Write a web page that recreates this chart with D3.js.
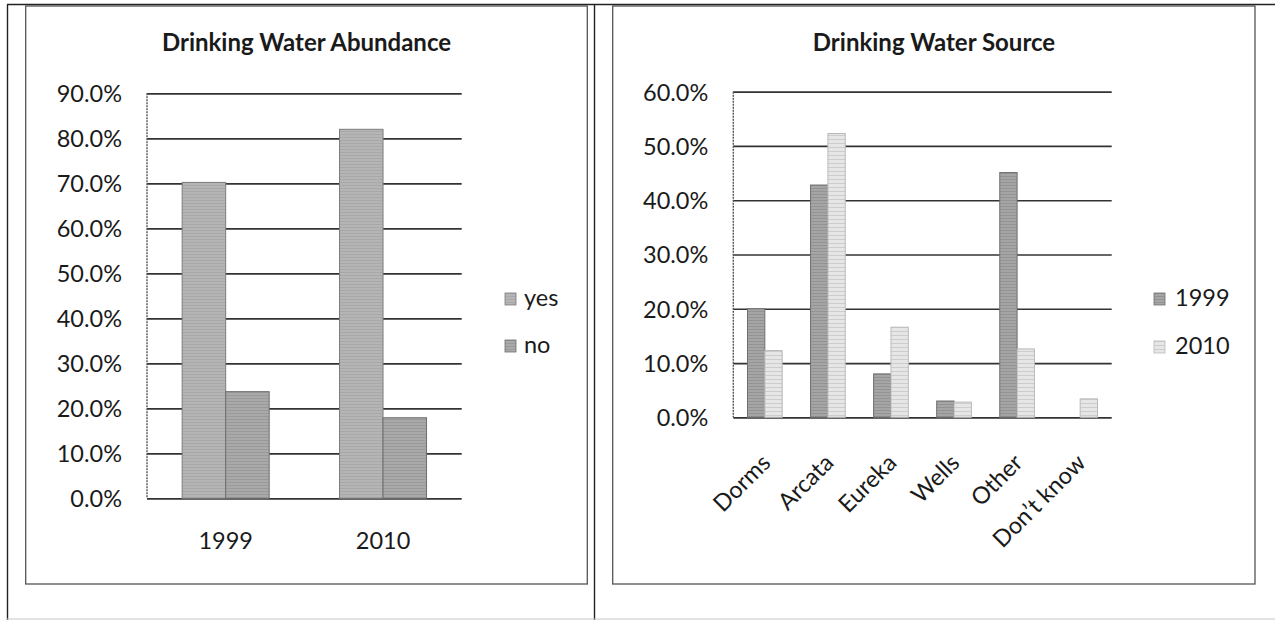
<!DOCTYPE html>
<html>
<head>
<meta charset="utf-8">
<script src="https://cdn.jsdelivr.net/npm/d3@7"></script>
<style>
  html, body { margin: 0; padding: 0; background: #fff; }
  svg { display: block; }
  text { font-family: Lato, "Liberation Sans", sans-serif; fill: #1a1a1a; }
</style>
</head>
<body>
<svg id="page" width="1275" height="620"></svg>
<script>
// ---- Drinking Water Abundance ----
const abundanceYears = ["1999", "2010"];
const abundanceSeries = ["yes", "no"];
const abundanceYes = [0.702, 0.820];
const abundanceNo = [0.237, 0.179];
const abundanceTicks = [0, 0.1, 0.2, 0.3, 0.4, 0.5, 0.6, 0.7, 0.8, 0.9];

// ---- Drinking Water Source ----
const sourceCategories = ["Dorms", "Arcata", "Eureka", "Wells", "Other", "Don\u2019t know"];
const sourceSeries = ["1999", "2010"];
const source1999 = [0.200, 0.428, 0.080, 0.030, 0.451, 0];
const source2010 = [0.123, 0.523, 0.166, 0.028, 0.126, 0.034];
const sourceTicks = [0, 0.1, 0.2, 0.3, 0.4, 0.5, 0.6];

const svg = d3.select("#page");
const pct = d3.format(".1%");

// Hatched fills that give the bars their printed texture
const defs = svg.append("defs");
function stripes(id, base, line, step) {
  const p = defs.append("pattern").attr("id", id)
    .attr("patternUnits", "userSpaceOnUse").attr("width", 8).attr("height", step);
  p.append("rect").attr("width", 8).attr("height", step).attr("fill", base);
  p.append("rect").attr("y", step - 1).attr("width", 8).attr("height", 1).attr("fill", line);
}
stripes("fillYes", "#b5b5b5", "#a8a8a8", 3);
stripes("fillNo", "#a9a9a9", "#9a9a9a", 3);
stripes("fill1999", "#a5a5a5", "#939393", 3);
stripes("fill2010", "#e6e6e6", "#cdcdcd", 4);

// Page table lines
const pageLines = svg.append("g").attr("stroke", "#222").attr("stroke-width", 1.4);
pageLines.append("line").attr("x1", 7).attr("x2", 1275).attr("y1", 4.5).attr("y2", 4.5);
pageLines.append("line").attr("x1", 7.5).attr("x2", 7.5).attr("y1", 4.5).attr("y2", 620);
pageLines.append("line").attr("x1", 594.5).attr("x2", 594.5).attr("y1", 4.5).attr("y2", 620);
svg.append("line").attr("x1", 7).attr("x2", 1275).attr("y1", 619).attr("y2", 619)
  .attr("stroke", "#c8c8c8").attr("stroke-width", 1.2);

function chartFrame(x0, x1, y0, y1) {
  svg.append("rect").attr("x", x0).attr("y", y0)
    .attr("width", x1 - x0).attr("height", y1 - y0)
    .attr("fill", "none").attr("stroke", "#555").attr("stroke-width", 1.3);
}

function drawChart(cfg) {
  const g = svg.append("g");
  const y = d3.scaleLinear().domain([0, cfg.max]).range([cfg.bottom, cfg.top]);
  const x = d3.scaleBand().domain(cfg.categories).range([cfg.left, cfg.right])
    .paddingInner(cfg.pad).paddingOuter(cfg.pad / 2);
  const xs = d3.scaleBand().domain(cfg.series).range([0, x.bandwidth()]);

  // gridlines and value labels
  const yAxis = g.append("g").attr("transform", `translate(${cfg.left},0)`)
    .call(d3.axisLeft(y).tickValues(cfg.ticks).tickFormat(pct)
      .tickSize(-(cfg.right - cfg.left)).tickPadding(25));
  yAxis.select(".domain").remove();
  yAxis.selectAll(".tick line").attr("stroke", "#333").attr("stroke-width", 1.7);
  yAxis.selectAll(".tick text").attr("font-size", 23.5).attr("fill", "#1a1a1a")
    .attr("dy", "0.36em");

  // vertical value axis
  g.append("line").attr("x1", cfg.left).attr("x2", cfg.left)
    .attr("y1", cfg.top).attr("y2", cfg.bottom)
    .attr("stroke", "#555").attr("stroke-width", 1.4).attr("stroke-dasharray", "2,1");

  // bars
  cfg.series.forEach((s, si) => {
    g.append("g").selectAll("rect").data(cfg.values[si]).join("rect")
      .attr("x", (d, i) => x(cfg.categories[i]) + xs(s))
      .attr("y", d => y(d))
      .attr("width", xs.bandwidth())
      .attr("height", d => y(0) - y(d))
      .attr("fill", `url(#${cfg.fills[si]})`)
      .attr("stroke", cfg.strokes[si]).attr("stroke-width", d => d > 0 ? 1 : 0);
  });

  // category labels
  const xAxis = g.append("g").attr("transform", `translate(0,${cfg.bottom})`)
    .call(d3.axisBottom(x).tickSize(0).tickPadding(0));
  xAxis.select(".domain").remove();
  const lab = xAxis.selectAll(".tick text").attr("font-size", 23.5).attr("fill", "#1a1a1a");
  if (cfg.rotate) {
    lab.attr("text-anchor", "end").attr("dy", 0).attr("y", 0)
      .attr("transform", `translate(7,${cfg.labelOffset}) rotate(-45)`);
  } else {
    lab.attr("dy", 0).attr("y", cfg.labelOffset);
  }

  // title
  g.append("text").attr("x", cfg.titleX).attr("y", 51)
    .attr("text-anchor", "middle").attr("font-size", 24).attr("font-weight", 700)
    .text(cfg.title);

  // legend
  const lg = g.append("g").selectAll("g").data(cfg.series).join("g")
    .attr("transform", (d, i) => `translate(${cfg.legendX},${cfg.legendY + i * cfg.legendStep})`);
  lg.append("rect").attr("x", 0).attr("y", -13).attr("width", 11).attr("height", 12)
    .attr("fill", (d, i) => `url(#${cfg.fills[i]})`)
    .attr("stroke", (d, i) => cfg.strokes[i]).attr("stroke-width", 0.8);
  lg.append("text").attr("x", cfg.legendTextDx).attr("y", 0)
    .attr("font-size", 23.5).text(d => d);
}

chartFrame(25.7, 587.3, 6, 584);
chartFrame(612.7, 1255, 6, 584);

drawChart({
  title: "Drinking Water Abundance", titleX: 306.5,
  categories: abundanceYears, series: abundanceSeries,
  values: [abundanceYes, abundanceNo], ticks: abundanceTicks, max: 0.9,
  left: 147, right: 461.7, top: 93.3, bottom: 498.3, pad: 0.447,
  fills: ["fillYes", "fillNo"], strokes: ["#7c7c7c", "#6e6e6e"],
  rotate: false, labelOffset: 51,
  legendX: 505, legendY: 306, legendStep: 47, legendTextDx: 19
});

drawChart({
  title: "Drinking Water Source", titleX: 934,
  categories: sourceCategories, series: sourceSeries,
  values: [source1999, source2010], ticks: sourceTicks, max: 0.6,
  left: 733.3, right: 1111.7, top: 91.7, bottom: 417.3, pad: 0.45,
  fills: ["fill1999", "fill2010"], strokes: ["#6f6f6f", "#b9b9b9"],
  rotate: true, labelOffset: 47,
  legendX: 1154, legendY: 306, legendStep: 48, legendTextDx: 21
});
</script>
</body>
</html>
